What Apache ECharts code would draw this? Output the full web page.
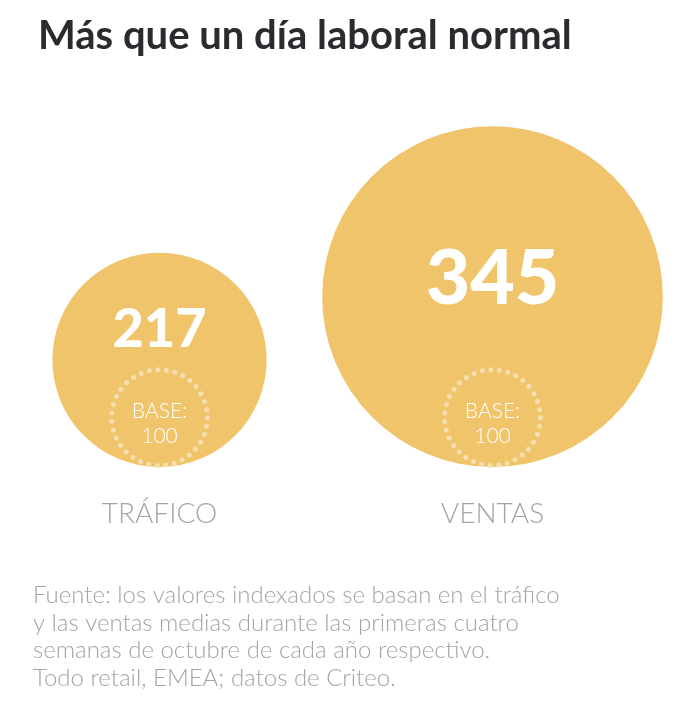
<!DOCTYPE html>
<html>
<head>
<meta charset="utf-8">
<script src="https://cdn.jsdelivr.net/npm/echarts@6/dist/echarts.min.js"></script>
<style>
html,body{margin:0;padding:0;background:#fff;}
#main{width:697px;height:709px;}
</style>
</head>
<body>
<div id="main"></div>
<script>
const titleText = 'Más que un día laboral normal';
const categories = ['TRÁFICO', 'VENTAS'];
const values = [217, 345];
const baseValues = [100, 100];
const baseLabel = 'BASE:';
const footnoteLines = [
  'Fuente: los valores indexados se basan en el tráfico',
  'y las ventas medias durante las primeras cuatro',
  'semanas de octubre de cada año respectivo.',
  'Todo retail, EMEA; datos de Criteo.'
];

const GOLD = '#f0c46a';
const DOT = '#f7dfb0';
const GRAY = '#a4a4a8';

const chart = echarts.init(document.getElementById('main'), null, {renderer: 'canvas'});

function renderBubble(params, api) {
  const p = api.coord([api.value(0), 0]);
  const d = api.size([0, api.value(1)])[1];
  const r = d / 2;
  const cy = p[1] - r;
  return {
    type: 'group',
    children: [
      {type: 'circle', shape: {cx: p[0], cy: cy, r: r}, style: {fill: GOLD}},
      {type: 'text', z2: 10, style: {
        text: String(api.value(1)), x: p[0], y: cy - 51.9 + 0.205 * r,
        align: 'center', verticalAlign: 'middle',
        fontFamily: 'Lato', fontWeight: 900, fontSize: 15.2 + 0.362 * r, fill: '#fff'
      }}
    ]
  };
}

function renderBase(params, api) {
  const p = api.coord([api.value(0), 0]);
  const d = api.size([0, api.value(1)])[1];
  const r = d / 2;
  const cy = p[1] - r;
  return {
    type: 'group',
    children: [
      {type: 'circle', shape: {cx: p[0], cy: cy, r: r - 1.5},
        style: {fill: 'none', stroke: DOT, lineWidth: 5, lineCap: 'round', lineDash: [0, 8.6]}},
      {type: 'text', style: {
        text: baseLabel + '\n' + api.value(1), x: p[0], y: cy + 6,
        align: 'center', verticalAlign: 'middle', lineHeight: 25,
        fontFamily: 'Lato', fontWeight: 300, fontSize: 21, fill: '#fff'
      }}
    ]
  };
}

chart.setOption({
  backgroundColor: '#fff',
  animation: false,
  title: {
    text: titleText, left: 33, top: 11,
    textStyle: {fontFamily: 'Lato', fontWeight: 'bold', fontSize: 40, color: '#2a2b2f'}
  },
  grid: {left: 159.5, right: 204.5, top: 72, bottom: 242},
  xAxis: {
    type: 'category', data: categories, boundaryGap: false,
    axisLine: {show: false}, axisTick: {show: false}, splitLine: {show: false},
    axisLabel: {margin: 33, fontFamily: 'Lato', fontWeight: 300, fontSize: 28, color: GRAY}
  },
  yAxis: {type: 'value', min: 0, max: 400, show: false},
  series: [
    {type: 'custom', renderItem: renderBubble, data: values.map((v, i) => [i, v]), z: 2},
    {type: 'custom', renderItem: renderBase, data: baseValues.map((v, i) => [i, v]), z: 3}
  ],
  graphic: [{
    type: 'text', left: 33, top: 582,
    style: {text: footnoteLines.join('\n'), fontFamily: 'Lato', fontWeight: 300, fontSize: 24,
      lineHeight: 27.5, fill: GRAY}
  }]
});
</script>
</body>
</html>
